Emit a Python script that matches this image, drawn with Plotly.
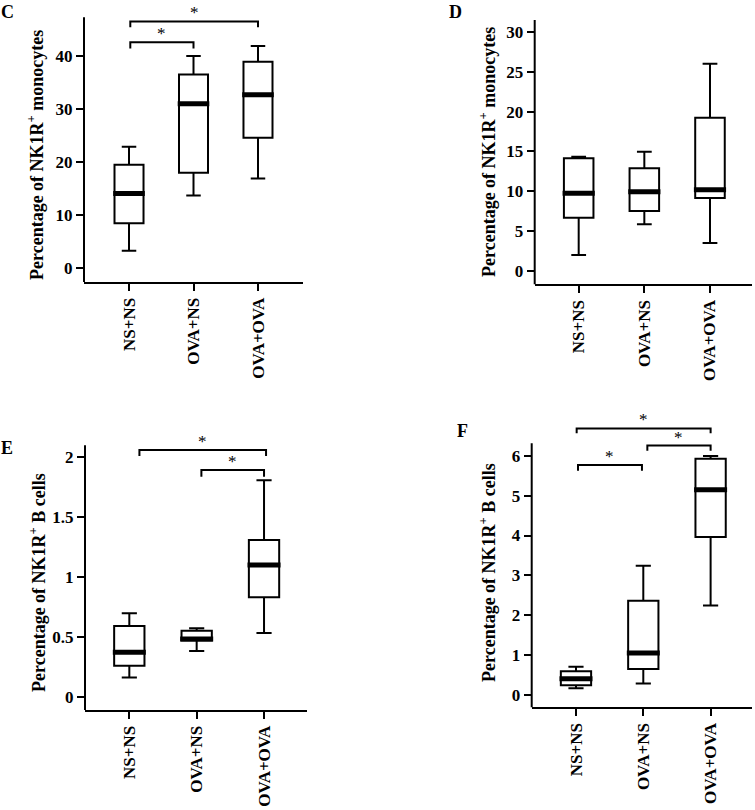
import plotly.graph_objects as go

# ---------------- data ----------------
categories = ["NS+NS", "OVA+NS", "OVA+OVA"]

# Panel C: NK1R+ monocytes
c_lower = [3.3, 13.7, 16.9]
c_q1 = [8.5, 18.0, 24.6]
c_median = [14.1, 31.0, 32.7]
c_q3 = [19.5, 36.5, 38.9]
c_upper = [22.9, 40.0, 41.9]
c_ticks = [0, 10, 20, 30, 40]

# Panel D: NK1R+ monocytes
d_lower = [2.0, 5.86, 3.5]
d_q1 = [6.69, 7.53, 9.16]
d_median = [9.75, 9.95, 10.2]
d_q3 = [14.15, 12.9, 19.25]
d_upper = [14.35, 14.98, 26.0]
d_ticks = [0, 5, 10, 15, 20, 25, 30]

# Panel E: NK1R+ B cells
e_lower = [0.16, 0.382, 0.532]
e_q1 = [0.259, 0.47, 0.83]
e_median = [0.371, 0.482, 1.10]
e_q3 = [0.591, 0.551, 1.309]
e_upper = [0.697, 0.571, 1.808]
e_ticks = [0, 0.5, 1, 1.5, 2]
e_ticktext = ["0", "0.5", "1", "1.5", "2"]

# Panel F: NK1R+ B cells
f_lower = [0.16, 0.28, 2.24]
f_q1 = [0.24, 0.645, 3.96]
f_median = [0.40, 1.05, 5.15]
f_q3 = [0.59, 2.36, 5.93]
f_upper = [0.70, 3.24, 6.0]
f_ticks = [0, 1, 2, 3, 4, 5, 6]

# significance brackets: (x start, x end, bracket level, end-drop level)
c_brackets = [(0.02, 1.0, 42.6, 41.4), (0.02, 2.0, 46.5, 45.4)]
e_brackets = [(0.15, 2.03, 2.061, 2.011), (1.07, 2.0, 1.894, 1.838)]
f_brackets = [(0.03, 0.98, 5.77, 5.63), (1.06, 2.0, 6.26, 6.13), (0.01, 2.0, 6.69, 6.57)]

title_mono = "Percentage of NK1R<sup>+</sup> monocytes"
title_b = "Percentage of NK1R<sup>+</sup> B cells"

# ---------------- layout geometry (pixels) ----------------
W, H = 755, 810
FONT = "Liberation Serif"
BOXW = 0.45

panels = [
    dict(letter="C", lower=c_lower, q1=c_q1, med=c_median, q3=c_q3, up=c_upper,
         ticks=c_ticks, ticktext=[str(t) for t in c_ticks], brackets=c_brackets,
         px=(84, 303), xr=(-0.698, 2.698), zero=268.3, unit=5.308, bottom=282,
         linetop=47.3, rtop=50.5, title=title_mono, tpos=(36, 155), lpos=(7, 12)),
    dict(letter="D", lower=d_lower, q1=d_q1, med=d_median, q3=d_q3, up=d_upper,
         ticks=d_ticks, ticktext=[str(t) for t in d_ticks], brackets=[],
         px=(534.7, 752), xr=(-0.67, 2.64), zero=271, unit=7.967, bottom=284.3,
         linetop=31.5, rtop=31.5, title=title_mono, tpos=(487, 152), lpos=(455, 12)),
    dict(letter="E", lower=e_lower, q1=e_q1, med=e_median, q3=e_q3, up=e_upper,
         ticks=e_ticks, ticktext=e_ticktext, brackets=e_brackets,
         px=(85, 307), xr=(-0.658, 2.638), zero=696.7, unit=119.7, bottom=710,
         linetop=2.10, rtop=2.22, title=title_b, tpos=(37, 583), lpos=(7, 448)),
    dict(letter="F", lower=f_lower, q1=f_q1, med=f_median, q3=f_q3, up=f_upper,
         ticks=f_ticks, ticktext=[str(t) for t in f_ticks], brackets=f_brackets,
         px=(531.7, 752), xr=(-0.658, 2.615), zero=694.7, unit=39.8, bottom=707.3,
         linetop=6.32, rtop=7.25, title=title_b, tpos=(487, 573), lpos=(462, 431)),
]

fig = go.Figure()
shapes = []
annotations = []
xs = list(range(len(categories)))

for i, p in enumerate(panels, start=1):
    xa = "x" if i == 1 else f"x{i}"
    ya = "y" if i == 1 else f"y{i}"
    ybot = (p["zero"] - p["bottom"]) / p["unit"]
    top_px = p["zero"] - p["rtop"] * p["unit"]
    ydom = [1 - p["bottom"] / H, 1 - top_px / H]
    xdom = [p["px"][0] / W, p["px"][1] / W]

    fig.add_trace(go.Box(
        x=xs, q1=p["q1"], median=p["med"], q3=p["q3"],
        lowerfence=p["lower"], upperfence=p["up"],
        width=BOXW, whiskerwidth=0.5, boxpoints=False,
        fillcolor="white", line=dict(color="black", width=2),
        xaxis=xa, yaxis=ya, hoverinfo="skip"))

    # thick median bars
    mx, my = [], []
    for k, m in zip(xs, p["med"]):
        mx += [k - BOXW / 2 - 0.02, k + BOXW / 2 + 0.02, None]
        my += [m, m, None]
    fig.add_trace(go.Scatter(x=mx, y=my, mode="lines",
                             line=dict(color="black", width=5),
                             xaxis=xa, yaxis=ya, hoverinfo="skip"))

    # brackets
    for (x0, x1, yl, yd) in p["brackets"]:
        fig.add_trace(go.Scatter(x=[x0, x0, x1, x1], y=[yd, yl, yl, yd], mode="lines",
                                 line=dict(color="black", width=2),
                                 xaxis=xa, yaxis=ya, hoverinfo="skip"))
        annotations.append(dict(x=(x0 + x1) / 2, y=yl, xref=xa, yref=ya,
                                text="*", showarrow=False, yanchor="bottom", yshift=-3,
                                font=dict(family=FONT, size=17, color="black")))

    axis_common = dict(showgrid=False, zeroline=False, ticks="outside",
                       ticklen=7, tickwidth=2, tickcolor="black")
    fig.layout[("xaxis" if i == 1 else f"xaxis{i}")] = dict(
        domain=xdom, anchor=ya, range=list(p["xr"]), tickmode="array",
        tickvals=xs, ticktext=categories, tickangle=-90,
        showline=True, linewidth=2, linecolor="black",
        tickfont=dict(family=FONT, size=17, color="black", weight="bold"),
        **axis_common)
    fig.layout[("yaxis" if i == 1 else f"yaxis{i}")] = dict(
        domain=ydom, anchor=xa, range=[ybot, p["rtop"]], tickmode="array",
        tickvals=p["ticks"], ticktext=p["ticktext"], showline=False,
        tickfont=dict(family=FONT, size=17, color="black", weight="bold"),
        **axis_common)

    # y axis line (stops at linetop, brackets may rise above)
    frac = (p["linetop"] - ybot) / (p["rtop"] - ybot)
    dref_x = ("x" if i == 1 else f"x{i}") + " domain"
    dref_y = ("y" if i == 1 else f"y{i}") + " domain"
    shapes.append(dict(type="line", xref=dref_x, yref=dref_y, x0=0, x1=0, y0=0, y1=frac,
                       line=dict(color="black", width=2)))

    annotations.append(dict(x=p["tpos"][0] / W, y=1 - p["tpos"][1] / H, xref="paper", yref="paper",
                            text=p["title"], textangle=-90, showarrow=False,
                            xanchor="center", yanchor="middle",
                            font=dict(family=FONT, size=18, color="black", weight="bold")))
    annotations.append(dict(x=p["lpos"][0] / W, y=1 - p["lpos"][1] / H, xref="paper", yref="paper",
                            text=p["letter"], showarrow=False, xanchor="center", yanchor="middle",
                            font=dict(family=FONT, size=18, color="black", weight="bold")))

fig.update_layout(width=W, height=H, margin=dict(l=0, r=0, t=0, b=0),
                  paper_bgcolor="white", plot_bgcolor="white", showlegend=False,
                  hovermode=False, shapes=shapes, annotations=annotations)

fig.write_html("out.html", config={"displayModeBar": False, "staticPlot": True},
               post_script="document.body.style.margin='0';")
